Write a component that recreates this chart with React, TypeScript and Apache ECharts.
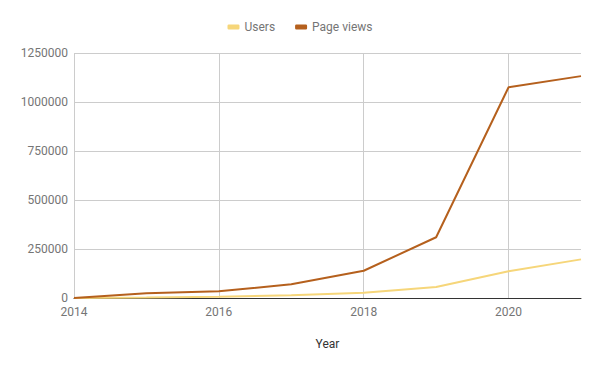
import React, { useEffect, useRef } from "react";
import * as echarts from "echarts";

const years = [2014, 2015, 2016, 2017, 2018, 2019, 2020, 2021];
const users = [0, 2000, 7000, 14000, 27000, 56000, 136000, 197000];
const pageViews = [0, 24000, 34000, 70000, 139000, 310000, 1075000, 1132000];

export default function App() {
  const ref = useRef<HTMLDivElement>(null);
  useEffect(() => {
    const chart = echarts.init(ref.current!, undefined, { renderer: "svg" });
    const font = "Roboto, sans-serif";
    chart.setOption({
      animation: false,
      textStyle: { fontFamily: font },
      legend: {
        top: 16,
        left: "center",
        itemWidth: 12,
        itemHeight: 5,
        itemGap: 20,
        icon: "roundRect",
        textStyle: { color: "#757575", fontSize: 12, fontFamily: font },
        data: ["Users", "Page views"],
      },
      grid: { left: 74, right: 19, top: 53, bottom: 73, containLabel: false },
      xAxis: {
        type: "value",
        min: 2014,
        max: 2021,
        interval: 2,
        name: "Year",
        nameLocation: "middle",
        nameGap: 40,
        nameTextStyle: { color: "#333", fontSize: 12, fontFamily: font },
        axisLine: { show: true, lineStyle: { color: "#333", width: 1 } },
        axisTick: { show: false },
        axisLabel: {
          color: "#757575",
          fontSize: 12,
          margin: 8,
          showMaxLabel: false,
          formatter: (v: number) => String(v),
        },
        splitLine: { show: true, showMaxLine: false, lineStyle: { color: "#cccccc" } },
      },
      yAxis: {
        type: "value",
        min: 0,
        max: 1250000,
        interval: 250000,
        axisLine: { show: false },
        axisTick: { show: false },
        axisLabel: { color: "#757575", fontSize: 12, margin: 6, formatter: (v: number) => String(v) },
        splitLine: { lineStyle: { color: "#cccccc" } },
      },
      series: [
        {
          name: "Users",
          type: "line",
          data: years.map((y, i) => [y, users[i]]),
          showSymbol: false,
          symbol: "none",
          itemStyle: { color: "#f6d67a" },
          lineStyle: { color: "#f6d67a", width: 2 },
        },
        {
          name: "Page views",
          type: "line",
          data: years.map((y, i) => [y, pageViews[i]]),
          showSymbol: false,
          symbol: "none",
          itemStyle: { color: "#b5601d" },
          lineStyle: { color: "#b5601d", width: 2 },
        },
      ],
    });
    return () => chart.dispose();
  }, []);
  return <div ref={ref} style={{ width: 600, height: 371, position: "absolute", left: 0, top: 0 }} />;
}
